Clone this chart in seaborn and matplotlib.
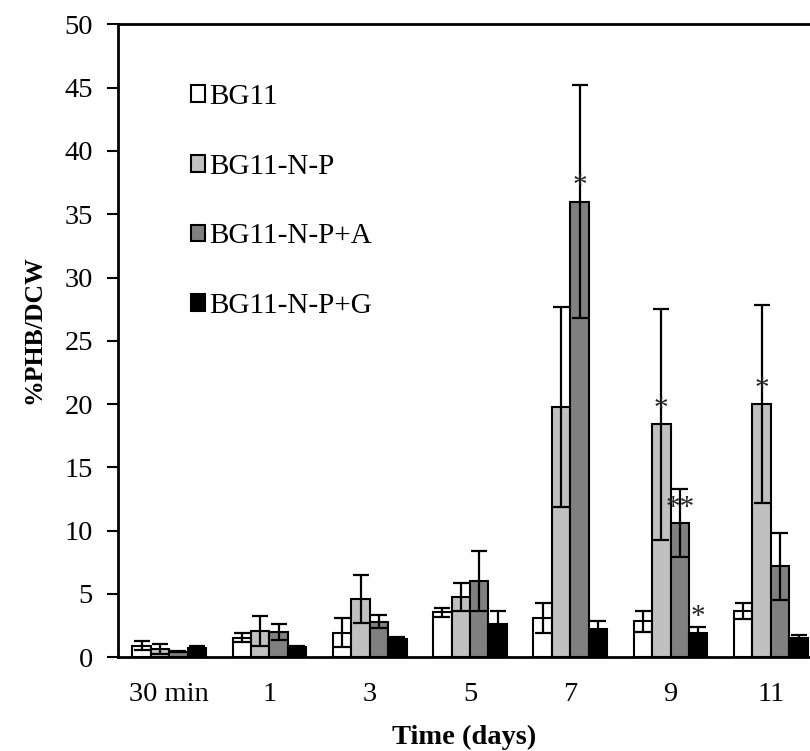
import matplotlib
matplotlib.use("Agg")
import matplotlib.pyplot as plt
import matplotlib.patches as mpatches
import pandas as pd
import seaborn as sns

# categories
times = ["30 min", "1", "3", "5", "7", "9", "11"]
media = ["BG11", "BG11-N-P", "BG11-N-P+A", "BG11-N-P+G"]

# %PHB/DCW means and standard deviations
bg11 = [0.92, 1.55, 1.94, 3.55, 3.10, 2.84, 3.68]
bg11_err = [0.37, 0.33, 1.15, 0.35, 1.20, 0.85, 0.63]
bg11_np = [0.63, 2.10, 4.62, 4.75, 19.8, 18.4, 20.0]
bg11_np_err = [0.40, 1.20, 1.90, 1.10, 7.90, 9.15, 7.80]
bg11_np_a = [0.44, 2.00, 2.81, 6.02, 36.0, 10.6, 7.20]
bg11_np_a_err = [0.05, 0.65, 0.50, 2.35, 9.20, 2.68, 2.65]
bg11_np_g = [0.71, 0.84, 1.44, 2.65, 2.23, 1.94, 1.55]
bg11_np_g_err = [0.15, 0.06, 0.16, 0.98, 0.63, 0.47, 0.20]

# significance marks: (time, medium, label)
sig_time = ["7", "9", "9", "9", "11"]
sig_medium = ["BG11-N-P+A", "BG11-N-P", "BG11-N-P+A", "BG11-N-P+G", "BG11-N-P"]
sig_label = ["*", "*", "**", "*", "*"]

colors = ["#ffffff", "#c0c0c0", "#808080", "#000000"]

means = [bg11, bg11_np, bg11_np_a, bg11_np_g]
errs = [bg11_err, bg11_np_err, bg11_np_a_err, bg11_np_g_err]

df = pd.DataFrame(
    [
        {"time": t, "medium": m, "phb": means[i][j], "sd": errs[i][j]}
        for i, m in enumerate(media)
        for j, t in enumerate(times)
    ]
)

sns.set_style("ticks")
plt.rcParams["font.family"] = ["Liberation Serif", "DejaVu Serif"]
plt.rcParams["text.color"] = "black"
plt.rcParams["axes.labelcolor"] = "black"
plt.rcParams["xtick.color"] = "black"
plt.rcParams["ytick.color"] = "black"

fig = plt.figure(figsize=(8.1, 7.51), dpi=100)
ax = fig.add_axes([0.1457, 0.1248, 0.8543, 0.8428])

sns.barplot(
    data=df, x="time", y="phb", hue="medium", order=times, hue_order=media,
    palette=colors, edgecolor="black", linewidth=1.5, width=0.735,
    errorbar=None, legend=False, ax=ax,
)

# error bars and asterisks at the bar centres
centres = {}
bar_conts = list(ax.containers)
for i, cont in enumerate(bar_conts):
    xs = [b.get_x() + b.get_width() / 2 for b in cont.patches]
    ax.errorbar(xs, means[i], yerr=errs[i], fmt="none", ecolor="black",
                elinewidth=1.6, capsize=5.5, capthick=1.6, zorder=5)
    for j, t in enumerate(times):
        centres[(t, media[i])] = xs[j]

for t, m, lab in zip(sig_time, sig_medium, sig_label):
    val = means[media.index(m)][times.index(t)]
    ax.text(centres[(t, m)], val + 0.2, lab, ha="center", va="bottom",
            fontsize=21, color="#222222", zorder=6)

ax.set_ylim(0, 50)
ax.set_xlim(-0.51, 6.39)
ax.set_yticks(range(0, 51, 5))
ax.tick_params(axis="y", direction="out", length=8, width=1.5, pad=10, labelsize=20.5)
ax.tick_params(axis="x", length=0, pad=17.5, labelsize=20.5)
for side in ["left", "top", "bottom"]:
    ax.spines[side].set_linewidth(2)
    ax.spines[side].set_color("black")
ax.spines["right"].set_visible(False)

ax.set_ylabel("%PHB/DCW", fontweight="bold", fontsize=18.5)
ax.yaxis.set_label_coords(-0.105, 0.518)
ax.set_xlabel("Time (days)", fontweight="bold", fontsize=20.5, labelpad=13)

handles = [mpatches.Patch(facecolor=c, edgecolor="black", linewidth=1.5) for c in colors]
ax.legend(handles, media, loc="upper left", bbox_to_anchor=(0.105, 0.906),
          frameon=False, fontsize=21, handlelength=0.5, handleheight=0.5,
          handletextpad=0.15, labelspacing=1.5, borderpad=0, borderaxespad=0)

fig.savefig("out.png", dpi=100)
